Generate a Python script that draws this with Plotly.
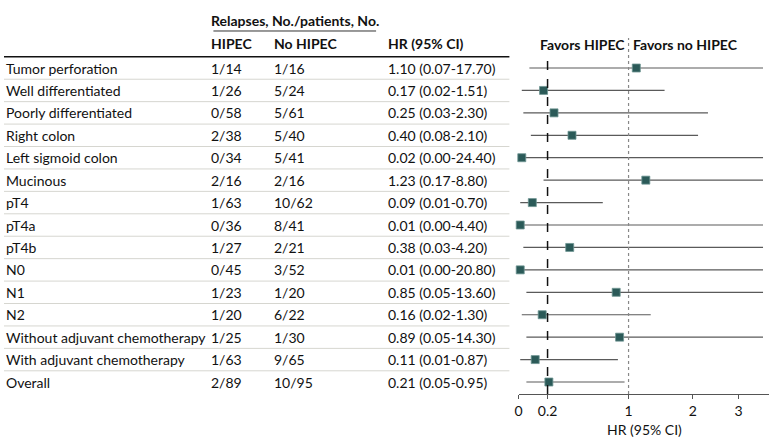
import numpy as np
import plotly.graph_objects as go

subgroups = ["Tumor perforation", "Well differentiated", "Poorly differentiated", "Right colon",
             "Left sigmoid colon", "Mucinous", "pT4", "pT4a", "pT4b", "N0", "N1", "N2",
             "Without adjuvant chemotherapy", "With adjuvant chemotherapy", "Overall"]
hipec = ["1/14", "1/26", "0/58", "2/38", "0/34", "2/16", "1/63", "0/36", "1/27", "0/45",
         "1/23", "1/20", "1/25", "1/63", "2/89"]
no_hipec = ["1/16", "5/24", "5/61", "5/40", "5/41", "2/16", "10/62", "8/41", "2/21", "3/52",
            "1/20", "6/22", "1/30", "9/65", "10/95"]
hr = [1.10, 0.17, 0.25, 0.40, 0.02, 1.23, 0.09, 0.01, 0.38, 0.01, 0.85, 0.16, 0.89, 0.11, 0.21]
ci_low = [0.07, 0.02, 0.03, 0.08, 0.00, 0.17, 0.01, 0.00, 0.03, 0.00, 0.05, 0.02, 0.05, 0.01, 0.05]
ci_high = [17.70, 1.51, 2.30, 2.10, 24.40, 8.80, 0.70, 4.40, 4.20, 20.80, 13.60, 1.30, 14.30, 0.87, 0.95]
tick_vals = [0, 0.2, 1, 2, 3]
tick_text = ["0", "0.2", "1", "2", "3"]
overall_hr_ref = 0.2
null_hr = 1.0

AXIS_MAX = 3.86
CLIP_MAX = 3.67

FONT = "Lato, Roboto, sans-serif"
FS = 14      # table text
FS_AX = 14   # axis / favors text
W, H = 780, 447
PAD = 4  # annotation inner padding compensation


def tx(v):
    return np.log1p(np.asarray(v, dtype=float))


n = len(subgroups)
rows = list(range(n))

fig = go.Figure()

# CI lines
for i in rows:
    lo = tx(ci_low[i])
    hi = tx(min(ci_high[i], CLIP_MAX))
    fig.add_trace(go.Scatter(x=[lo, hi], y=[i, i], mode="lines",
                             line=dict(color="#5a5a5a", width=1.2),
                             hoverinfo="skip", showlegend=False, cliponaxis=False))

fig.add_trace(go.Scatter(x=tx(hr), y=rows, mode="markers",
                         marker=dict(symbol="square", size=8, color="#2b5a58",
                                     line=dict(color="#6f9593", width=0.8)),
                         showlegend=False, cliponaxis=False))

ax_left, ax_right = 517.3, 769.3
axis_y_px = 394
pitch = 22.43
row0_px = 68


def ypx_to_paper(p):
    return 1 - p / H


fig.update_layout(
    width=W, height=H, margin=dict(l=0, r=0, t=0, b=0),
    paper_bgcolor="white", plot_bgcolor="white",
    font=dict(family=FONT, size=FS, color="#111"),
    xaxis=dict(domain=[ax_left / W, ax_right / W], range=[0, float(tx(AXIS_MAX))],
               anchor="free", position=ypx_to_paper(axis_y_px),
               showline=True, linecolor="#555", linewidth=1,
               ticks="outside", ticklen=4, tickcolor="#555",
               tickvals=list(tx(tick_vals)), ticktext=tick_text,
               tickfont=dict(size=FS_AX, family=FONT, color="#111"),
               showgrid=False, zeroline=False, fixedrange=True),
    yaxis=dict(domain=[0, 1], range=[(H - row0_px) / pitch, -row0_px / pitch],
               visible=False, fixedrange=True),
)

shapes = []
table_right = 508 / W
# header line
shapes.append(dict(type="line", xref="paper", yref="y", x0=0, x1=table_right,
                   y0=-0.5, y1=-0.5, line=dict(color="#111", width=1.5)))
# separators
for i in range(n - 1):
    shapes.append(dict(type="line", xref="paper", yref="y", x0=0, x1=table_right,
                       y0=i + 0.5, y1=i + 0.5, line=dict(color="#d6d6d0", width=1)))
# relapses underline
shapes.append(dict(type="line", xref="paper", yref="y", x0=210.5 / W, x1=374 / W,
                   y0=-1.65, y1=-1.65, line=dict(color="#333", width=1)))
# reference lines
shapes.append(dict(type="line", xref="x", yref="paper", x0=float(tx(overall_hr_ref)),
                   x1=float(tx(overall_hr_ref)), y0=ypx_to_paper(axis_y_px), y1=ypx_to_paper(56),
                   line=dict(color="#111", width=1.5, dash="dash")))
shapes.append(dict(type="line", xref="x", yref="paper", x0=float(tx(null_hr)),
                   x1=float(tx(null_hr)), y0=ypx_to_paper(axis_y_px), y1=ypx_to_paper(38),
                   line=dict(color="#888", width=1.2, dash="dot")))
fig.update_layout(shapes=shapes)

ann = []


def txt(x_px, y, s, bold=False, anchor="left", size=FS, xref="paper", x=None, xshift=None):
    if xshift is None:
        xshift = -PAD if anchor == "left" else PAD
    ann.append(dict(xref=xref, yref="y", x=(x_px / W if x is None else x), y=y,
                    text=(f"<b>{s}</b>" if bold else s), showarrow=False,
                    xanchor=anchor, yanchor="middle", xshift=xshift,
                    font=dict(family=FONT, size=size, color="#111")))


txt(210, -2.14, "Relapses, No./patients, No.", bold=True)
txt(210, -1.11, "HIPEC", bold=True)
txt(273, -1.11, "No HIPEC", bold=True)
txt(388, -1.11, "HR (95% CI)", bold=True)
for i in rows:
    txt(4, i, subgroups[i])
    txt(210, i, hipec[i])
    txt(273, i, no_hipec[i])
    txt(388, i, f"{hr[i]:.2f} ({ci_low[i]:.2f}-{ci_high[i]:.2f})")

txt(0, -1.03, "Favors HIPEC", bold=True, anchor="right", xref="x", x=float(tx(null_hr)),
    xshift=-6 + PAD, size=FS_AX)
txt(0, -1.03, "Favors no HIPEC", bold=True, anchor="left", xref="x", x=float(tx(null_hr)),
    xshift=6 - PAD, size=FS_AX)

ann.append(dict(xref="paper", yref="paper", x=(ax_left + ax_right) / 2 / W, y=ypx_to_paper(429),
                text="HR (95% CI)", showarrow=False, xanchor="center", yanchor="middle",
                font=dict(family=FONT, size=FS_AX, color="#111")))
fig.update_layout(annotations=ann)

fig.write_html("out.html", config={"displayModeBar": False},
               post_script="document.body.style.margin='0';")
